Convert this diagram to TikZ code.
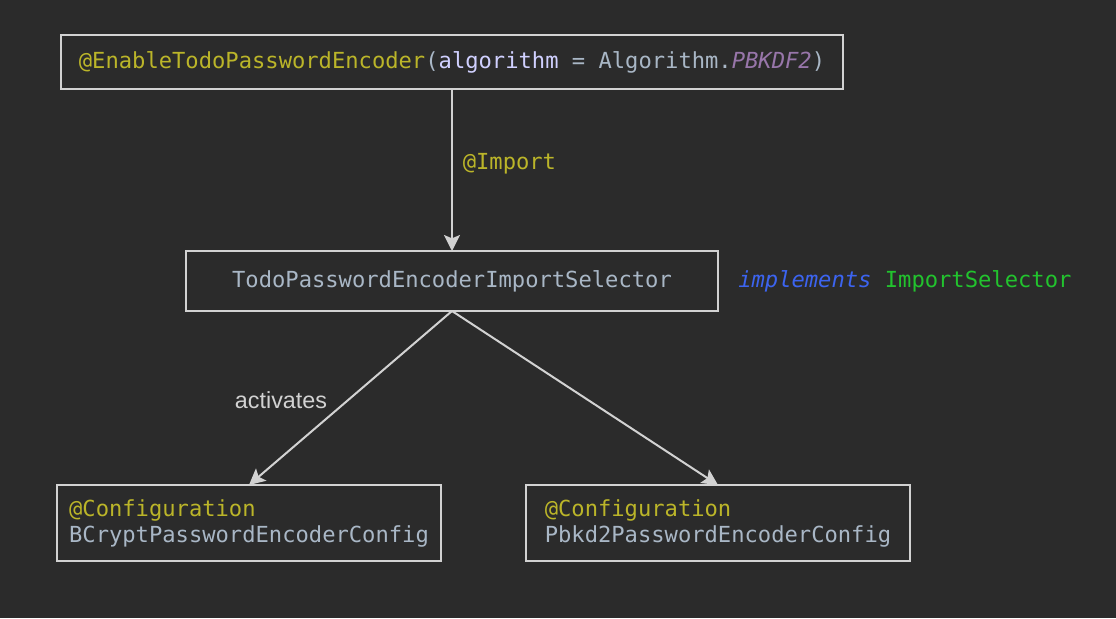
\documentclass[tikz,border=0pt]{standalone}
\usepackage{fontspec}
\usepackage{tikz}
\usetikzlibrary{arrows.meta,%
                positioning}
\newfontfamily\codefont{DejaVu Sans Mono}
\newfontfamily\sanslabelfont{Liberation Sans}
\definecolor{bgdark}{HTML}{2B2B2B}
\definecolor{linegray}{HTML}{D2D2D2}
\definecolor{annotyellow}{HTML}{BBB529}
\definecolor{classtext}{HTML}{A9B7C6}
\definecolor{paramlilac}{HTML}{D0D0FF}
\definecolor{constpurple}{HTML}{9876AA}
\definecolor{keyblue}{HTML}{3C64F0}
\definecolor{typegreen}{HTML}{22C32E}

\begin{document}
\begin{tikzpicture}[x=0.75pt,y=-0.75pt,>={Stealth[length=12pt,width=12pt,inset=2.5pt]}]
  \fill[bgdark] (0,0) rectangle (1116,618);
  \useasboundingbox (0,0) rectangle (1116,618);
  \tikzset{CodeFont/.style = {font=\codefont\fontsize{16.6}{19.5}\selectfont}}
  \tikzset{BoxStyle/.style = {draw=linegray, line width=1.5pt, outer sep=0pt,
                              text=classtext, CodeFont}}
  \tikzset{EdgeStyle/.style = {->, draw=linegray, line width=1.5pt}}
  %\tikzset{EdgeStyle/.append style = {bend left = 30}}
  \tikzset{node distance = 121.5pt}

  \node[BoxStyle, minimum width=586.5pt, minimum height=40.5pt] (Enable) at (452,62)
    {{\color{annotyellow}@EnableTodoPasswordEncoder}({\color{paramlilac}algorithm} = Algorithm.{\color{constpurple}\itshape PBKDF2})};
  \node[BoxStyle, minimum width=399pt, minimum height=45pt, below=of Enable] (Selector)
    {TodoPasswordEncoderImportSelector};
  \node[CodeFont, inner sep=0pt, right=15pt of Selector] (Implements)
    {{\color{keyblue}\itshape implements} {\color{typegreen}ImportSelector}};
  \node[BoxStyle, align=left, minimum width=288pt, minimum height=57pt,
        below=130.5pt of Selector, xshift=-152.25pt] (BCrypt)
    {{\color{annotyellow}@Configuration}\\BCryptPasswordEncoderConfig};
  \node[BoxStyle, align=left, minimum width=288pt, minimum height=57pt,
        below=130.5pt of Selector, xshift=199.5pt] (Pbkdf)
    {{\color{annotyellow}@Configuration}\\Pbkd2PasswordEncoderConfig};

  \draw[EdgeStyle] (Enable) -- node[pos=0.46, right=4pt, CodeFont, text=annotyellow] {@Import} (Selector);
  \draw[EdgeStyle] (Selector.south) -- node[pos=0.51, left=12pt, text=linegray,
    font=\sanslabelfont\fontsize{17.5}{20}\selectfont] {activates} (BCrypt.north);
  \draw[EdgeStyle] (Selector.south) -- (Pbkdf.north);

\end{tikzpicture}
\end{document}
